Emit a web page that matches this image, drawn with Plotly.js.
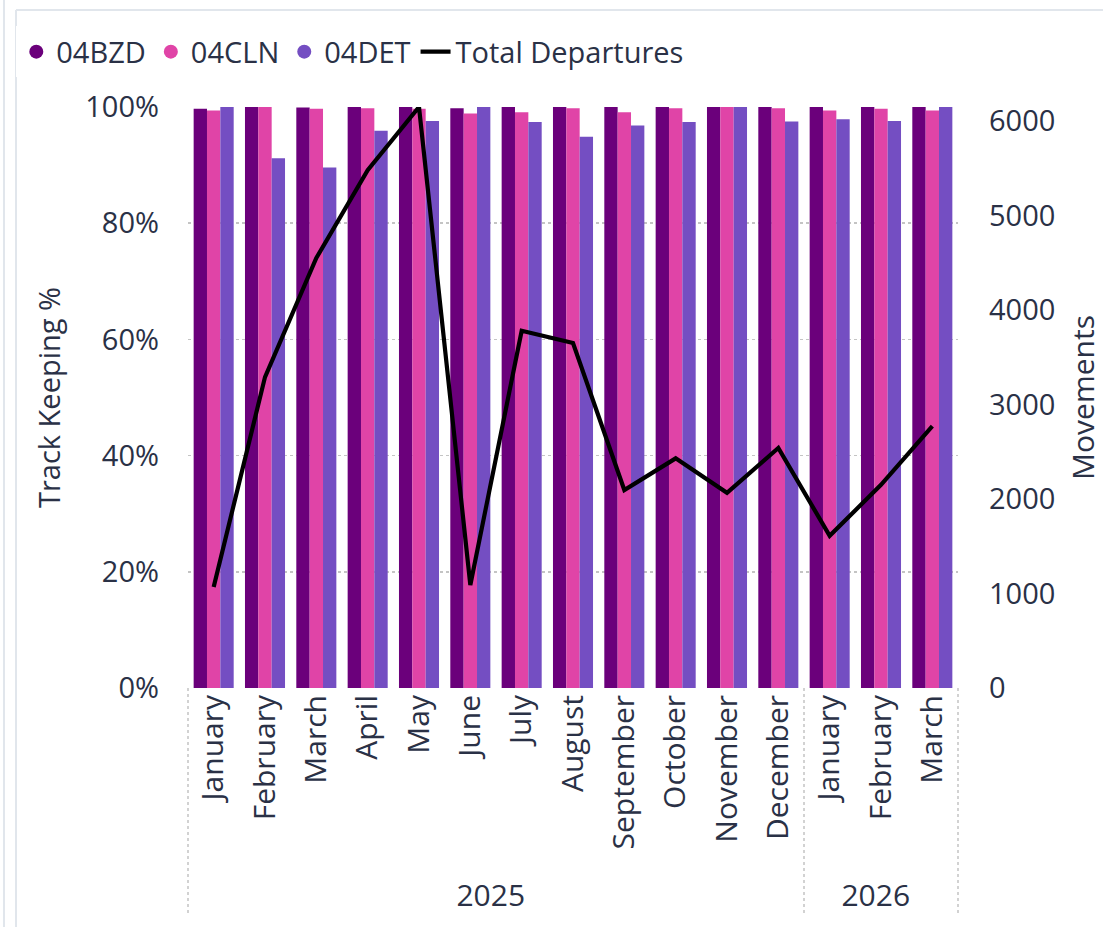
<!DOCTYPE html>
<html>
<head>
<meta charset="utf-8">
<script src="https://cdn.plot.ly/plotly-3.0.1.min.js"></script>
<style>html,body{margin:0;padding:0;background:#fff;}#chart{width:1103px;height:927px;}</style>
</head>
<body>
<div id="chart"></div>
<script>
const years = ["2025","2025","2025","2025","2025","2025","2025","2025","2025","2025","2025","2025","2026","2026","2026"];
const months = ["January","February","March","April","May","June","July","August","September","October","November","December","January","February","March"];
const bzd = [99.7, 100, 99.9, 100, 100, 99.8, 100, 100, 100, 100, 100, 100, 100, 100, 100];
const cln = [99.4, 100, 99.7, 99.8, 99.7, 98.9, 99.1, 99.8, 99.1, 99.8, 100, 99.8, 99.4, 99.7, 99.4];
const det = [100, 91.2, 89.6, 95.9, 97.6, 100, 97.4, 94.9, 96.8, 97.4, 100, 97.5, 97.9, 97.6, 100];
const departures = [1070, 3290, 4550, 5480, 6148, 1090, 3780, 3650, 2095, 2430, 2065, 2540, 1610, 2150, 2770];

const textColor = '#2A3146';
const fontFam = '"Open Sans", "Noto Sans", sans-serif';
const x = [years, months];
const pct = a => a.map(v => v / 100);

const traces = [
  {type:'bar', name:'04BZD', x:x, y:pct(bzd), marker:{color:'#6B007B'}, showlegend:false, legendgroup:'a'},
  {type:'bar', name:'04CLN', x:x, y:pct(cln), marker:{color:'#E044A7'}, showlegend:false, legendgroup:'b'},
  {type:'bar', name:'04DET', x:x, y:pct(det), marker:{color:'#744EC2'}, showlegend:false, legendgroup:'c'},
  {type:'scatter', mode:'markers', name:'04BZD', x:[[years[0]],[months[0]]], y:[null], marker:{color:'#6B007B', size:14, symbol:'circle'}, legendgroup:'a'},
  {type:'scatter', mode:'markers', name:'04CLN', x:[[years[0]],[months[0]]], y:[null], marker:{color:'#E044A7', size:14, symbol:'circle'}, legendgroup:'b'},
  {type:'scatter', mode:'markers', name:'04DET', x:[[years[0]],[months[0]]], y:[null], marker:{color:'#744EC2', size:14, symbol:'circle'}, legendgroup:'c'},
  {type:'scatter', mode:'lines', name:'Total Departures', x:x, y:departures, yaxis:'y2', line:{color:'#000000', width:4.2}}
];

const divLine = (xp) => ({type:'line', xref:'paper', yref:'paper', x0:xp, x1:xp, y0:0, y1:-0.39, line:{color:'#C4C4C4', width:1.5, dash:'dot'}});

const layout = {
  width:1103, height:927,
  margin:{l:188, r:145, t:107, b:239},
  paper_bgcolor:'#ffffff', plot_bgcolor:'#ffffff',
  font:{family:fontFam, color:textColor, size:29},
  barmode:'group', bargap:0.22, bargroupgap:0,
  showlegend:true,
  legend:{orientation:'h', x:-0.223, xanchor:'left', y:1.095, yanchor:'middle', font:{size:29, color:textColor}, traceorder:'normal', itemwidth:30, tracegroupgap:0},
  xaxis:{type:'multicategory', tickangle:-90, tickfont:{size:30, color:textColor}, showgrid:false, showline:false, zeroline:false, ticks:'', showdividers:false, automargin:false, range:[-0.5,14.5]},
  yaxis:{range:[0,1], dtick:0.2, tickformat:'.0%', showgrid:true, gridcolor:'#C4C4C4', griddash:'dot', gridwidth:1.5, zeroline:false, showline:false, ticklabelstandoff:28, tickfont:{size:29, color:textColor}, title:{text:'Track Keeping %', font:{size:29, color:textColor}, standoff:16}, automargin:false},
  yaxis2:{overlaying:'y', side:'right', range:[0,6148], dtick:1000, showgrid:false, zeroline:false, showline:false, ticklabelstandoff:30, tickfont:{size:29, color:textColor}, title:{text:'Movements', font:{size:30, color:textColor}, standoff:29}, automargin:false},
  shapes:[
    divLine(0), divLine(0.8), divLine(1),
    {type:'line', xref:'paper', yref:'paper', x0:-0.2234, x1:1.2, y0:1.167, y1:1.167, line:{color:'#E1E6EC', width:2}},
    {type:'line', xref:'paper', yref:'paper', x0:-0.2234, x1:-0.2234, y0:1.167, y1:-0.45, line:{color:'#E1E6EC', width:2}},
    {type:'line', xref:'paper', yref:'paper', x0:-0.2390, x1:-0.2390, y0:1.2, y1:-0.45, line:{color:'#E1E6EC', width:2}}
  ]
};

Plotly.newPlot('chart', traces, layout, {displayModeBar:false, staticPlot:true});
</script>
</body>
</html>
